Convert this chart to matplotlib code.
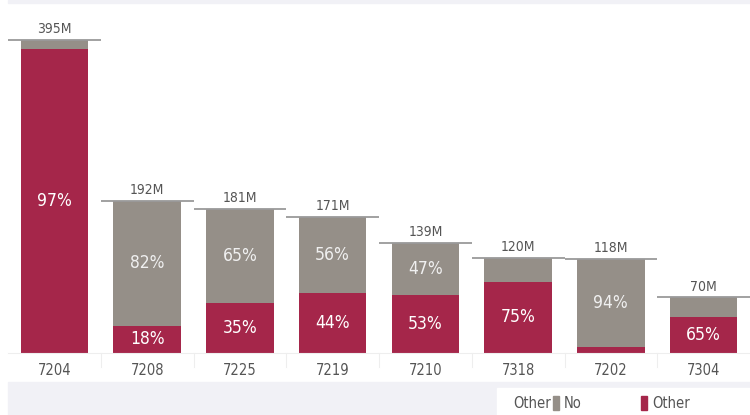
import matplotlib
matplotlib.use("Agg")
import matplotlib.pyplot as plt
from matplotlib.patches import Rectangle
from matplotlib import font_manager
import numpy as np

# data
categories = ["7204", "7208", "7225", "7219", "7210", "7318", "7202", "7304"]
totals = [395, 192, 181, 171, 139, 120, 118, 70]          # millions
other_pct = [97, 18, 35, 44, 53, 75, 6, 65]
no_pct = [3, 82, 65, 56, 47, 25, 94, 35]

RED = "#a5264a"
GREY = "#958f88"


def fp(size):
    return font_manager.FontProperties(family="DejaVu Sans", stretch="condensed", size=size)


fig = plt.figure(figsize=(7.5, 4.15), dpi=100)
W, H = 750, 415

# background bands
fig.patches.append(Rectangle((8 / W, 1 - 3 / H), 1, 3 / H, transform=fig.transFigure,
                             color="#f1f1f6", zorder=0))
fig.patches.append(Rectangle((8 / W, 0), 1, (415 - 382) / H, transform=fig.transFigure,
                             color="#f1f1f6", zorder=0))
fig.patches.append(Rectangle((497 / W, 0), 1, (415 - 388) / H, transform=fig.transFigure,
                             color="white", zorder=1))

ax = fig.add_axes([8 / W, 62 / H, 742 / W, (353 - 8) / H])
x = np.arange(len(categories))
tot = np.array(totals, dtype=float)
oth = tot * np.array(other_pct) / 100
no = tot * np.array(no_pct) / 100

ax.bar(x, oth, width=0.73, color=RED)
ax.bar(x, no, width=0.73, bottom=oth, color=GREY)

for i in range(len(categories)):
    ax.hlines(tot[i], i - 0.5, i + 0.5, color="#9a9a9a", linewidth=1.3)
    ax.text(i, tot[i] + 5, f"{totals[i]}M", ha="center", va="bottom",
            color="#555555", fontproperties=fp(10))
    if oth[i] >= 32:
        ax.text(i, oth[i] / 2, f"{other_pct[i]}%", ha="center", va="center",
                color="white", fontproperties=fp(12.5))
    if no[i] >= 32:
        ax.text(i, oth[i] + no[i] / 2, f"{no_pct[i]}%", ha="center", va="center",
                color="#f0f0f0", fontproperties=fp(12.5))

ax.set_xlim(-0.5, len(categories) - 0.5)
ax.set_ylim(0, 435)
ax.set_yticks([])
ax.set_xticks(x)
ax.set_xticklabels(categories, color="#555555", fontproperties=fp(10.5))
ax.tick_params(axis="x", length=0, pad=7)
for s in ["top", "right", "left"]:
    ax.spines[s].set_visible(False)
ax.spines["bottom"].set_color("#eeeeee")

# faint separators under the axis
for b in np.arange(0.5, len(categories) - 0.5, 1):
    ax.plot([b, b], [0, -18], color="#eeeeee", linewidth=0.8, clip_on=False)

# legend
fy = (415 - 403) / H
fig.text(551 / W, fy, "Other", color="#555555", fontproperties=fp(10.5),
         va="center", ha="right")
fig.patches.append(Rectangle((553 / W, fy - 7 / H), 6 / W, 14 / H,
                             transform=fig.transFigure, color=GREY, zorder=3))
fig.text(564 / W, fy, "No", color="#555555", fontproperties=fp(10.5), va="center")
fig.patches.append(Rectangle((641 / W, fy - 7 / H), 6 / W, 14 / H,
                             transform=fig.transFigure, color=RED, zorder=3))
fig.text(652 / W, fy, "Other", color="#555555", fontproperties=fp(10.5), va="center")

fig.savefig("out.png", dpi=100)
